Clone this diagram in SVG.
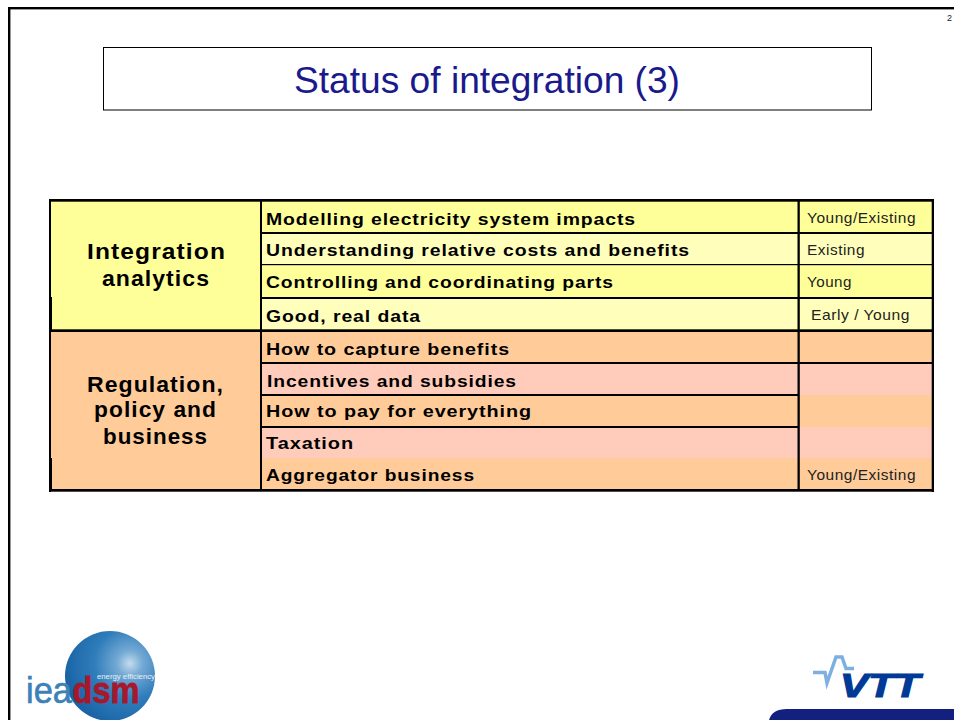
<svg xmlns="http://www.w3.org/2000/svg" width="954" height="720" viewBox="0 0 954 720">
<style>
text{font-family:"Liberation Sans",Arial,sans-serif}
.y1{fill:#ffff99}.y2{fill:#ffffbb}.o1{fill:#ffcc99}.o2{fill:#ffccbb}
.k{fill:#000}
.row{font-size:17px;font-weight:bold;fill:#000;letter-spacing:.8px}
.grp{font-size:22px;font-weight:bold;fill:#000;letter-spacing:1px}
.st{font-size:15px;fill:#222;letter-spacing:.5px}
</style>
<defs>
<radialGradient id="globe" cx="0.72" cy="0.36" r="0.72">
<stop offset="0" stop-color="#c4dcee"/><stop offset="0.2" stop-color="#74a9d4"/><stop offset="0.55" stop-color="#2f7dbb"/><stop offset="1" stop-color="#1a64a6"/>
</radialGradient>
</defs>
<rect width="954" height="720" fill="#fff"/>
<g id="frame">
<rect class="k" x="8" y="7" width="946" height="2.400"/>
<rect class="k" x="8" y="7" width="2.400" height="713"/>
<text x="947" y="21" font-size="9" fill="#222">2</text>
</g>
<g id="title">
<rect x="103.500" y="47.500" width="768" height="62.500" fill="#fff" stroke="#000" stroke-width="1"/>
<text x="487" y="93" font-size="37" text-anchor="middle" fill="#1a1a8c" textLength="386" lengthAdjust="spacingAndGlyphs">Status of integration (3)</text>
</g>
<g id="table-fills">
<rect class="y1" x="50" y="200" width="211" height="130"/>
<rect class="o1" x="50" y="331" width="211" height="159"/>
<rect class="y1" x="261" y="200" width="671" height="33"/>
<rect class="y2" x="261" y="233" width="671" height="31"/>
<rect class="y1" x="261" y="264" width="671" height="34"/>
<rect class="y2" x="261" y="298" width="671" height="32"/>
<rect class="o1" x="261" y="331" width="671" height="32"/>
<rect class="o2" x="261" y="363" width="671" height="32"/>
<rect class="o1" x="261" y="395" width="671" height="32"/>
<rect class="o2" x="261" y="427" width="671" height="31"/>
<rect class="o1" x="261" y="458" width="671" height="32"/>
</g>
<g id="table-lines">
<rect class="k" x="49" y="199" width="885" height="2.700"/>
<rect class="k" x="49" y="489" width="885" height="2.700"/>
<rect class="k" x="49" y="199" width="2" height="293"/>
<rect class="k" x="49" y="297" width="3" height="33"/>
<rect class="k" x="49" y="458" width="3" height="33"/>
<rect class="k" x="931.700" y="199" width="2.300" height="293"/>
<rect class="k" x="260" y="199" width="2" height="292"/>
<rect class="k" x="797.500" y="199" width="2.300" height="292"/>
<rect class="k" x="50" y="329.300" width="882" height="2.700"/>
<rect class="k" x="261" y="232" width="671" height="2"/>
<rect class="k" x="261" y="264" width="671" height="1.200"/>
<rect class="k" x="261" y="297" width="671" height="2"/>
<rect class="k" x="261" y="362" width="671" height="2"/>
<rect class="k" x="261" y="394" width="537" height="2"/>
<rect class="k" x="261" y="426" width="537" height="2"/>
</g>
<g id="group-integration">
<text class="grp" x="156.500" y="259" text-anchor="middle" textLength="139" lengthAdjust="spacingAndGlyphs">Integration</text>
<text class="grp" x="156" y="286" text-anchor="middle" textLength="108" lengthAdjust="spacingAndGlyphs">analytics</text>
</g>
<g id="group-regulation">
<text class="grp" x="155.500" y="392" text-anchor="middle" textLength="137" lengthAdjust="spacingAndGlyphs">Regulation,</text>
<text class="grp" x="155.500" y="417" text-anchor="middle" textLength="123" lengthAdjust="spacingAndGlyphs">policy and</text>
<text class="grp" x="155.500" y="444" text-anchor="middle" textLength="105" lengthAdjust="spacingAndGlyphs">business</text>
</g>
<g id="row-1"><text class="row" x="266" y="225" textLength="370" lengthAdjust="spacingAndGlyphs">Modelling electricity system impacts</text><text class="st" x="807" y="223" textLength="109" lengthAdjust="spacingAndGlyphs">Young/Existing</text></g>
<g id="row-2"><text class="row" x="266" y="256" textLength="424" lengthAdjust="spacingAndGlyphs">Understanding relative costs and benefits</text><text class="st" x="807" y="255" textLength="58" lengthAdjust="spacingAndGlyphs">Existing</text></g>
<g id="row-3"><text class="row" x="266" y="288" textLength="348" lengthAdjust="spacingAndGlyphs">Controlling and coordinating parts</text><text class="st" x="807" y="287" textLength="45" lengthAdjust="spacingAndGlyphs">Young</text></g>
<g id="row-4"><text class="row" x="266" y="322" textLength="155" lengthAdjust="spacingAndGlyphs">Good, real data</text><text class="st" x="811" y="320" textLength="99" lengthAdjust="spacingAndGlyphs">Early / Young</text></g>
<g id="row-5"><text class="row" x="266" y="355" textLength="244" lengthAdjust="spacingAndGlyphs">How to capture benefits</text></g>
<g id="row-6"><text class="row" x="267" y="387" textLength="250" lengthAdjust="spacingAndGlyphs">Incentives and subsidies</text></g>
<g id="row-7"><text class="row" x="266" y="417" textLength="266" lengthAdjust="spacingAndGlyphs">How to pay for everything</text></g>
<g id="row-8"><text class="row" x="266" y="449" textLength="88" lengthAdjust="spacingAndGlyphs">Taxation</text></g>
<g id="row-9"><text class="row" x="266" y="481" textLength="209" lengthAdjust="spacingAndGlyphs">Aggregator business</text><text class="st" x="807" y="480" textLength="109" lengthAdjust="spacingAndGlyphs">Young/Existing</text></g>
<g id="logo-ieadsm">
<circle cx="110" cy="676" r="45" fill="url(#globe)"/>
<text x="97" y="679" font-size="7.500" fill="#e8eef4" textLength="58" lengthAdjust="spacingAndGlyphs">energy efficiency</text>
<text x="26" y="703" font-size="36" fill="#3b82b8" stroke="#3b82b8" stroke-width=".6" textLength="46" lengthAdjust="spacingAndGlyphs">iea</text>
<text x="72.500" y="703" font-size="37" font-weight="bold" fill="#a8182c" stroke="#a8182c" stroke-width=".8" textLength="67" lengthAdjust="spacingAndGlyphs">dsm</text>
</g>
<g id="logo-vtt">
<path d="M813 672.500H825L827 683L836 657H842L846 668.500H854" fill="none" stroke="#7db0e0" stroke-width="3.500"/>
<text x="840" y="697" font-size="33" font-weight="bold" font-style="italic" fill="#003a96" stroke="#003a96" stroke-width="1.200" textLength="80" lengthAdjust="spacingAndGlyphs">VTT</text>
</g>
<path id="footer-band" d="M769 720Q772 709 787 709H954V720Z" fill="#14207e"/>
</svg>
